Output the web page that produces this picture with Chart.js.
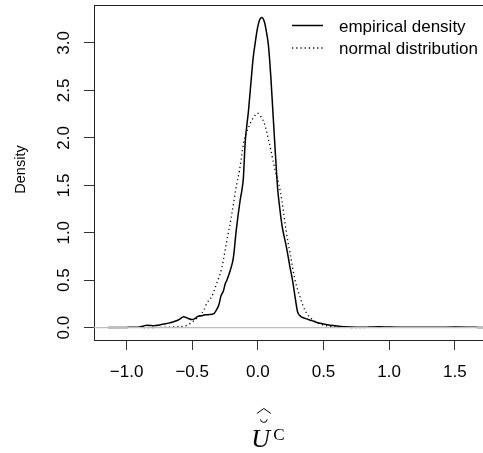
<!DOCTYPE html>
<html>
<head>
<meta charset="utf-8">
<script src="https://cdn.jsdelivr.net/npm/chart.js@4.4.1/dist/chart.umd.min.js"></script>
<style>
  html, body { margin:0; padding:0; background:#fff; overflow:hidden; }
  #wrap { width:483px; height:453px; }
</style>
</head>
<body>
<div id="wrap"><canvas id="chart" width="483" height="453"></canvas></div>
<script>
// empirical density (solid line)
const empX = [-1.14,-1.0,-0.90,-0.87,-0.845,-0.82,-0.795,-0.76,-0.718,-0.68,-0.642,-0.60,-0.566,-0.535,-0.502,-0.48,-0.464,-0.43,-0.401,-0.37,-0.338,-0.31,-0.295,-0.282,-0.262,-0.249,-0.236,-0.211,-0.186,-0.165,-0.135,-0.122,-0.110,-0.097,-0.071,-0.049,-0.035,-0.02,-0.005,0.01,0.03,0.05,0.065,0.081,0.09,0.099,0.114,0.129,0.145,0.152,0.16,0.172,0.186,0.218,0.242,0.264,0.284,0.302,0.325,0.355,0.411,0.474,0.55,0.614,0.70,0.78,0.85,0.92,1.0,1.1,1.2,1.3,1.4,1.5,1.6,1.68,1.75];
const empY = [0.002,0.003,0.008,0.018,0.026,0.024,0.020,0.025,0.038,0.048,0.063,0.085,0.114,0.100,0.085,0.095,0.114,0.125,0.135,0.138,0.145,0.20,0.25,0.33,0.39,0.46,0.50,0.60,0.74,1.02,1.34,1.445,1.58,1.94,2.29,2.64,2.85,3.0,3.14,3.23,3.267,3.22,3.12,2.97,2.82,2.64,2.29,1.94,1.58,1.445,1.34,1.20,1.06,0.847,0.66,0.50,0.32,0.17,0.12,0.10,0.074,0.046,0.025,0.016,0.008,0.004,0.006,0.009,0.006,0.004,0.005,0.004,0.005,0.006,0.005,0.003,0.001];

// normal distribution (dotted line)
const normX = [-0.87,-0.75,-0.66,-0.59,-0.54,-0.515,-0.49,-0.44,-0.41,-0.388,-0.35,-0.315,-0.274,-0.236,-0.198,-0.160,-0.140,-0.109,-0.059,-0.03,-0.003,0.025,0.050,0.088,0.132,0.162,0.183,0.215,0.251,0.284,0.322,0.36,0.411,0.474,0.55,0.65,0.75,0.83];
const normY = [0.001,0.003,0.007,0.012,0.025,0.045,0.07,0.13,0.19,0.26,0.33,0.46,0.636,0.918,1.199,1.52,1.656,1.94,2.149,2.22,2.26,2.22,2.149,1.94,1.656,1.50,1.34,1.023,0.742,0.496,0.32,0.179,0.092,0.039,0.014,0.004,0.001,0.0];

const xTicks = [-1.0,-0.5,0.0,0.5,1.0,1.5];
const yTicks = [0.0,0.5,1.0,1.5,2.0,2.5,3.0];
const xRange = [-1.248, 1.715];
const yRange = [-0.13, 3.40];
const zeroLevel = 0;
const seriesNames = ['empirical density','normal distribution'];

const FONT = '"Liberation Sans", Arial, Helvetica, sans-serif';
const SERIF = '"Liberation Serif", "DejaVu Serif", serif';
const fmt = v => v.toFixed(1).replace('-', '\u2212');
const pts = (xs, ys) => xs.map((x,i)=>({x, y:ys[i]}));

const rStyle = {
  id:'rStyle',
  afterDraw(chart){
    const {ctx, chartArea:a, scales:{x, y}} = chart;
    ctx.save();
    // top edge of the box (right edge falls outside the picture)
    ctx.strokeStyle = '#222';
    ctx.lineWidth = 1;
    ctx.beginPath();
    ctx.moveTo(a.left, Math.round(a.top)+0.5);
    ctx.lineTo(a.right, Math.round(a.top)+0.5);
    ctx.stroke();

    // rotated y tick labels, R style
    ctx.fillStyle = '#000';
    ctx.font = '17px ' + FONT;
    ctx.textAlign = 'center';
    ctx.textBaseline = 'alphabetic';
    for (const v of yTicks) {
      ctx.save();
      ctx.translate(68.5, y.getPixelForValue(v));
      ctx.rotate(-Math.PI/2);
      ctx.fillText(v.toFixed(1), 0, 0);
      ctx.restore();
    }

    // y title
    ctx.save();
    ctx.font = '14.5px ' + FONT;
    ctx.translate(25, (a.top + a.bottom)/2 - 3);
    ctx.rotate(-Math.PI/2);
    ctx.fillText('Density', 0, 0);
    ctx.restore();

    // legend, no box
    ctx.font = '17px ' + FONT;
    ctx.textAlign = 'left';
    ctx.textBaseline = 'middle';
    const ds = chart.data.datasets;
    [0,1].forEach((k,i)=>{
      const ly = 25.5 + i*22.5;
      ctx.strokeStyle = '#000';
      ctx.lineWidth = ds[k].borderWidth;
      ctx.setLineDash(ds[k].borderDash || []);
      ctx.beginPath();
      ctx.moveTo(292, ly);
      ctx.lineTo(323, ly);
      ctx.stroke();
      ctx.setLineDash([]);
      ctx.fillText(ds[k].label, 339, ly + 1.5);
    });

    // x title: U with breve and wide hat, superscript C
    const cx = x.getPixelForValue(0);
    ctx.fillStyle = '#000';
    ctx.textBaseline = 'alphabetic';
    ctx.font = 'italic 26px ' + SERIF;
    ctx.fillText('U', cx - 6.5, 447);
    ctx.font = '17px ' + SERIF;
    ctx.fillText('C', cx + 15.5, 439.5);
    ctx.strokeStyle = '#000';
    ctx.lineWidth = 1;
    ctx.beginPath();
    ctx.arc(cx + 6, 419, 3.4, 0.1, Math.PI - 0.1);
    ctx.stroke();
    ctx.beginPath();
    ctx.moveTo(cx - 1, 413.5);
    ctx.lineTo(cx + 6, 408.5);
    ctx.lineTo(cx + 13, 413.5);
    ctx.stroke();
    ctx.restore();
  }
};

const ctx = document.getElementById('chart').getContext('2d');
const chart = new Chart(ctx, {
  type:'line',
  data:{
    datasets:[
      { label:seriesNames[0], data:pts(empX, empY), borderColor:'#000', borderWidth:1.5,
        pointRadius:0, cubicInterpolationMode:'monotone', fill:false, order:1 },
      { label:seriesNames[1], data:pts(normX, normY), borderColor:'#000', borderWidth:1.3,
        borderDash:[1.2,3], pointRadius:0, cubicInterpolationMode:'monotone', fill:false, order:2 },
      { label:'zero', data:pts(xRange, [zeroLevel, zeroLevel]), borderColor:'#bebebe', borderWidth:1.3,
        pointRadius:0, fill:false, order:0 }
    ]
  },
  options:{
    responsive:false,
    animation:false,
    layout:{ padding:{ top:5, left:0, right:0, bottom:0 } },
    plugins:{ legend:{display:false}, tooltip:{enabled:false} },
    scales:{
      x:{
        type:'linear', min:xRange[0], max:xRange[1],
        afterBuildTicks: s => { s.ticks = xTicks.map(v=>({value:v})); },
        afterFit: s => { s.height = 113; },
        ticks:{ callback: v => fmt(v), font:{ size:17, family:FONT }, color:'#000',
                maxRotation:0, autoSkip:false, padding:12 },
        grid:{ drawOnChartArea:false, drawTicks:true, tickLength:10, color:'#333', tickWidth:1 },
        border:{ display:true, color:'#222', width:1 }
      },
      y:{
        type:'linear', min:yRange[0], max:yRange[1],
        afterBuildTicks: s => { s.ticks = yTicks.map(v=>({value:v})); },
        afterFit: s => { s.width = 94; },
        ticks:{ display:false },
        grid:{ drawOnChartArea:false, drawTicks:true, tickLength:10, color:'#333', tickWidth:1 },
        border:{ display:true, color:'#222', width:1 }
      }
    }
  },
  plugins:[rStyle]
});
</script>
</body>
</html>
